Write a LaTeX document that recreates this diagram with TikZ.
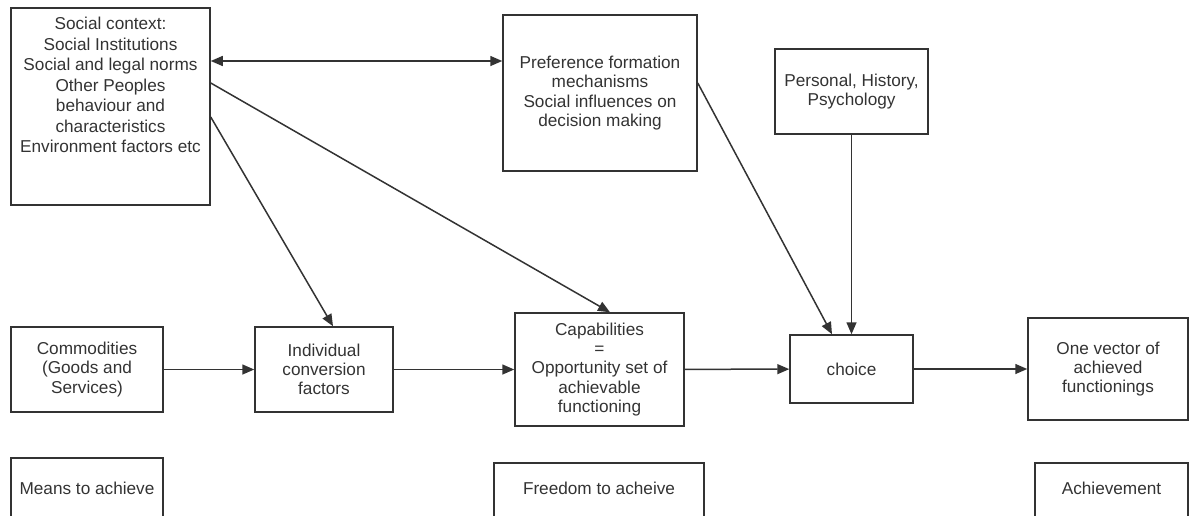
\documentclass[tikz,border=0pt]{standalone}
\usepackage{fontspec}
\setmainfont{Liberation Sans}
\usetikzlibrary{arrows.meta}
\definecolor{ink}{HTML}{333333}
\begin{document}
\begin{tikzpicture}[x=1pt,y=-1pt,
  box/.style={draw=ink, line width=1.5pt, inner sep=0pt, align=center, text=ink,
    font=\fontsize{17.2}{19.3}\selectfont},
  txt/.style={inner sep=0pt, align=center, text=ink, font=\fontsize{17.2}{20.5}\selectfont},
  tip/.tip={Triangle[length=12pt,width=10pt]},
  conn/.style={draw=ink, line width=1.5pt, -tip},
  dbl/.style={draw=ink, line width=1.5pt, tip-tip},
]
\useasboundingbox (0,0) rectangle (1190,515);

% top row
\node[box, minimum width=199pt, minimum height=197pt] (social) at (110.5,106.5) {};
\node[txt, anchor=north] (socialtxt) at (110.5,17) {Social context:\\Social Institutions\\Social and legal norms\\Other Peoples\\behaviour and\\characteristics\\Environment factors etc};
\node[box, minimum width=194pt, minimum height=156pt] (pref) at (600,93)
  {Preference formation\\mechanisms\\Social influences on\\decision making};
\node[box, minimum width=153pt, minimum height=85pt] (personal) at (851.5,91.5)
  {Personal, History,\\Psychology};

% middle row
\node[box, minimum width=152pt, minimum height=85pt] (comm) at (87,369.5)
  {Commodities\\(Goods and\\Services)};
\node[box, minimum width=138pt, minimum height=85pt] (indiv) at (324,369.5)
  {Individual\\conversion\\factors};
\node[box, minimum width=169pt, minimum height=113pt] (cap) at (599.5,369.5)
  {Capabilities\\=\\Opportunity set of\\achievable\\functioning};
\node[box, minimum width=123pt, minimum height=68pt] (choice) at (851.5,369)
  {choice};
\node[box, minimum width=160pt, minimum height=102pt] (onevec) at (1108,369)
  {One vector of\\achieved\\functionings};

% bottom row (boxes run off the lower edge)
\begin{scope}
  \clip (0,0) rectangle (1190,515);
  \node[box, anchor=north, minimum width=152pt, text height=37pt, text depth=45pt] (means) at (87,457) {Means to achieve};
  \node[box, anchor=north, minimum width=210pt, text height=32pt, text depth=45pt] (freedom) at (599,462) {Freedom to acheive};
  \node[box, anchor=north, minimum width=153pt, text height=32pt, text depth=45pt] (achieve) at (1111.5,462) {Achievement};
\end{scope}

% connectors
\draw[dbl] ([yshift=45.5pt]social.east) -- ([yshift=32pt]pref.west);
\draw[conn] ([yshift=23.5pt]social.east) -- ([xshift=10.5pt]cap.north);
\draw[conn] ([yshift=-10.5pt]social.east) -- ([xshift=9pt]indiv.north);
\draw[conn] ([yshift=10pt]pref.east) -- ([xshift=-19.5pt]choice.north);
\draw[conn] (personal) -- (choice);
\draw[conn] (comm) -- (indiv);
\draw[conn] (indiv) -- (cap);
\draw[conn] (cap) -- (choice);
\draw[conn] (choice) -- (onevec);
\end{tikzpicture}
\end{document}
